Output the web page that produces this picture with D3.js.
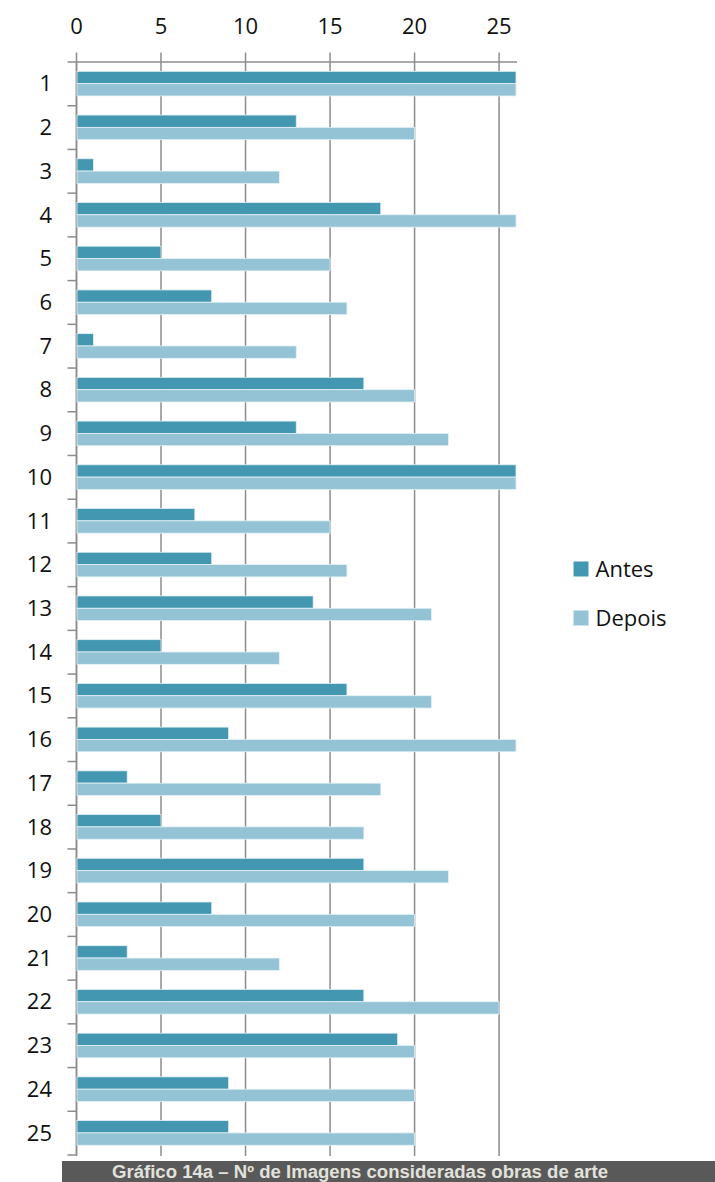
<!DOCTYPE html>
<html>
<head>
<meta charset="utf-8">
<script src="https://cdn.jsdelivr.net/npm/d3@7"></script>
<style>
  html, body { margin: 0; padding: 0; background: #fff; }
  svg { display: block; }
</style>
</head>
<body>
<svg id="chart" width="715" height="1182"></svg>
<script>
// Respostas por imagem: antes e depois
const categories = ["1","2","3","4","5","6","7","8","9","10","11","12","13","14","15","16","17","18","19","20","21","22","23","24","25"];
const antes  = [26,13,1,18,5,8,1,17,13,26,7,8,14,5,16,9,3,5,17,8,3,17,19,9,9];
const depois = [26,20,12,26,15,16,13,20,22,26,15,16,21,12,21,26,18,17,22,20,12,25,20,20,20];
const seriesNames = ["Antes", "Depois"];
const xTicks = [0, 5, 10, 15, 20, 25];
const caption = "Gráfico 14a – Nº de Imagens consideradas obras de arte";

const colors = { Antes: "#4397b0", Depois: "#93c3d5" };
const font = "'Open Sans', Lato, sans-serif";

const svg = d3.select("#chart");
const plotLeft = 76.5, plotRight = 516, plotTop = 62, plotBottom = 1155;

const x = d3.scaleLinear().domain([0, 26]).range([plotLeft, plotRight]);
const y = d3.scaleBand().domain(categories).range([plotTop, plotBottom]).padding(0);
const inner = d3.scaleBand().domain(seriesNames)
  .range([y.bandwidth() * 0.213, y.bandwidth() * 0.777]).padding(0);

const grid = "#8c8c8c";

// vertical gridlines with their small ticks above the top line
svg.append("g").selectAll("line").data(xTicks).join("line")
  .attr("x1", d => x(d)).attr("x2", d => x(d))
  .attr("y1", plotTop - 9.5).attr("y2", plotBottom + 1)
  .attr("stroke", grid).attr("stroke-width", 1.5);

// top axis line
svg.append("line")
  .attr("x1", plotLeft - 9).attr("x2", plotRight + 1)
  .attr("y1", plotTop).attr("y2", plotTop)
  .attr("stroke", grid).attr("stroke-width", 1.5);

// left axis line and category ticks
svg.append("line")
  .attr("x1", plotLeft).attr("x2", plotLeft)
  .attr("y1", plotTop).attr("y2", plotBottom)
  .attr("stroke", grid).attr("stroke-width", 1.5);
const boundaries = categories.map(c => y(c) + y.bandwidth());
svg.append("g").selectAll("line").data(boundaries).join("line")
  .attr("x1", plotLeft - 9).attr("x2", plotLeft)
  .attr("y1", d => d).attr("y2", d => d)
  .attr("stroke", grid).attr("stroke-width", 1.5);

// bars
const rows = categories.map((c, i) => ({ c, values: [
  { s: "Antes", v: antes[i] }, { s: "Depois", v: depois[i] } ] }));
const rowG = svg.append("g").selectAll("g").data(rows).join("g")
  .attr("transform", d => `translate(0,${y(d.c)})`);
rowG.selectAll("rect").data(d => d.values).join("rect")
  .attr("x", x(0) + 0.5)
  .attr("y", d => inner(d.s))
  .attr("width", d => x(d.v) - x(0) - 0.5)
  .attr("height", inner.bandwidth())
  .attr("fill", d => colors[d.s])
  .attr("stroke", "#e4f1f5").attr("stroke-width", 0.8);

// top tick labels
svg.append("g").selectAll("text").data(xTicks).join("text")
  .attr("x", d => x(d)).attr("y", 33.8)
  .attr("text-anchor", "middle")
  .attr("font-family", font).attr("font-size", 22).attr("fill", "#111")
  .text(d => d);

// category labels
svg.append("g").selectAll("text").data(categories).join("text")
  .attr("x", 52).attr("y", d => y(d) + y.bandwidth() / 2 + 7.5)
  .attr("text-anchor", "end")
  .attr("font-family", font).attr("font-size", 22).attr("fill", "#111")
  .text(d => d);

// legend
const legend = svg.append("g").selectAll("g").data(seriesNames).join("g")
  .attr("transform", (d, i) => `translate(573.5,${561.5 + i * 49})`);
legend.append("rect")
  .attr("width", 15).attr("height", 15)
  .attr("fill", d => colors[d]);
legend.append("text")
  .attr("x", 22).attr("y", 15)
  .attr("font-family", font).attr("font-size", 22).attr("fill", "#111")
  .text(d => d);

// caption band
svg.append("rect")
  .attr("x", 62).attr("y", 1161).attr("width", 653).attr("height", 21)
  .attr("fill", "#595959");
svg.append("text")
  .attr("x", 360).attr("y", 1178)
  .attr("text-anchor", "middle")
  .attr("font-family", "'Liberation Sans', Arial, sans-serif")
  .attr("font-weight", "bold").attr("font-size", 18)
  .attr("textLength", 496).attr("lengthAdjust", "spacingAndGlyphs")
  .attr("fill", "#e2e2dc")
  .text(caption);
</script>
</body>
</html>
